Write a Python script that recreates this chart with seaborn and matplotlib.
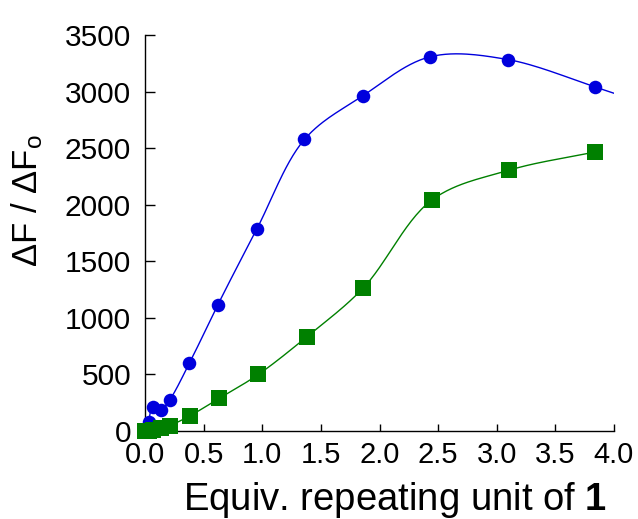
import numpy as np
import matplotlib
matplotlib.use("Agg")
import matplotlib.pyplot as plt
import seaborn as sns

# ---- data ----
blue_x = [0.03, 0.066, 0.134, 0.21, 0.378, 0.62, 0.953, 1.36, 1.857, 2.43, 3.095, 3.834]
blue_y = [77, 215, 186, 274, 598, 1113, 1784, 2577, 2962, 3307, 3283, 3042]
blue_curve_end_x = 4.0
blue_curve_end_y = 2985

green_x = [0.0, 0.03, 0.066, 0.134, 0.21, 0.384, 0.634, 0.967, 1.38, 1.863, 2.446, 3.108, 3.84]
green_y = [0, 3, 10, 24, 47, 135, 289, 500, 833, 1266, 2041, 2306, 2467]

x_ticks = [0.0, 0.5, 1.0, 1.5, 2.0, 2.5, 3.0, 3.5, 4.0]
x_tick_labels = ["0.0", "0.5", "1.0", "1.5", "2.0", "2.5", "3.0", "3.5", "4.0"]
y_ticks = [0, 500, 1000, 1500, 2000, 2500, 3000, 3500]
y_tick_labels = ["0", "500", "1000", "1500", "2000", "2500", "3000", "3500"]

BLUE = "#0000DD"
GREEN = "#008000"

sns.set_theme(style="white")
plt.rcParams["font.family"] = ["Liberation Sans", "DejaVu Sans"]
plt.rcParams["mathtext.fontset"] = "custom"
plt.rcParams["mathtext.rm"] = "Liberation Sans"
plt.rcParams["mathtext.it"] = "Liberation Sans:italic"
plt.rcParams["mathtext.bf"] = "Liberation Sans:bold"
plt.rcParams["text.color"] = "black"
plt.rcParams["axes.labelcolor"] = "black"
plt.rcParams["xtick.color"] = "black"
plt.rcParams["ytick.color"] = "black"


def smooth_curve(xs, ys, sx, sy, n=30, alpha=0.5):
    """Catmull-Rom curve through the data points (in display-like scale)."""
    P = np.column_stack([np.asarray(xs, float) * sx, np.asarray(ys, float) * sy])
    P = np.vstack([2 * P[0] - P[1], P, 2 * P[-1] - P[-2]])
    out = []
    for i in range(1, len(P) - 2):
        p0, p1, p2, p3 = P[i - 1], P[i], P[i + 1], P[i + 2]
        t0 = 0.0
        t1 = t0 + max(np.linalg.norm(p1 - p0), 1e-6) ** alpha
        t2 = t1 + max(np.linalg.norm(p2 - p1), 1e-6) ** alpha
        t3 = t2 + max(np.linalg.norm(p3 - p2), 1e-6) ** alpha
        t = np.linspace(t1, t2, n)[:, None]
        A1 = (t1 - t) / (t1 - t0) * p0 + (t - t0) / (t1 - t0) * p1
        A2 = (t2 - t) / (t2 - t1) * p1 + (t - t1) / (t2 - t1) * p2
        A3 = (t3 - t) / (t3 - t2) * p2 + (t - t2) / (t3 - t2) * p3
        B1 = (t2 - t) / (t2 - t0) * A1 + (t - t0) / (t2 - t0) * A2
        B2 = (t3 - t) / (t3 - t1) * A2 + (t - t1) / (t3 - t1) * A3
        C = (t2 - t) / (t2 - t1) * B1 + (t - t1) / (t2 - t1) * B2
        out.append(C if i == 1 else C[1:])
    C = np.vstack(out)
    return C[:, 0] / sx, C[:, 1] / sy


SX, SY = 117.2, 0.1133

fig = plt.figure(figsize=(6.38, 5.19), dpi=100)
ax = fig.add_axes([145 / 638, (519 - 431) / 519, (614 - 145) / 638, (431 - 35) / 519])

bx, by = smooth_curve(blue_x + [blue_curve_end_x], blue_y + [blue_curve_end_y], SX, SY)
gx, gy = smooth_curve(green_x, green_y, SX, SY)

sns.lineplot(x=bx, y=by, sort=False, estimator=None, color=BLUE, linewidth=1.0, ax=ax)
sns.scatterplot(x=blue_x, y=blue_y, color=BLUE, marker="o", s=95, linewidth=0, ax=ax,
                clip_on=False, zorder=3)
sns.lineplot(x=gx, y=gy, sort=False, estimator=None, color=GREEN, linewidth=1.0, ax=ax)
sns.scatterplot(x=green_x, y=green_y, color=GREEN, marker="s", s=135, linewidth=0, ax=ax,
                clip_on=False, zorder=4)

ax.set_xlim(0, 4)
ax.set_ylim(0, 3500)
ax.set_xticks(x_ticks)
ax.set_xticklabels(x_tick_labels)
ax.set_yticks(y_ticks)
ax.set_yticklabels(y_tick_labels)

for s in ["top", "right"]:
    ax.spines[s].set_visible(False)
for s in ["left", "bottom"]:
    ax.spines[s].set_color("black")
    ax.spines[s].set_linewidth(1.0)

ax.tick_params(axis="x", direction="in", length=5, width=1, color="black",
               labelsize=21, pad=7, bottom=True, labelcolor="black")
ax.tick_params(axis="y", direction="in", length=7, width=1, color="black",
               labelsize=21.5, pad=10, left=True, labelcolor="black")

ax.set_xlabel(r"Equiv. repeating unit of $\mathbf{1}$", fontsize=27.5)
ax.xaxis.set_label_coords((395 - 145) / 469, -(509.5 - 431) / 396)
ax.xaxis.label.set_va("baseline")
ax.set_ylabel(r"ΔF / ΔF$_\mathrm{o}$", fontsize=25)
ax.yaxis.set_label_coords(-(145 - 45) / 469, (431 - 201) / 396)

fig.savefig("out.png", dpi=100)
